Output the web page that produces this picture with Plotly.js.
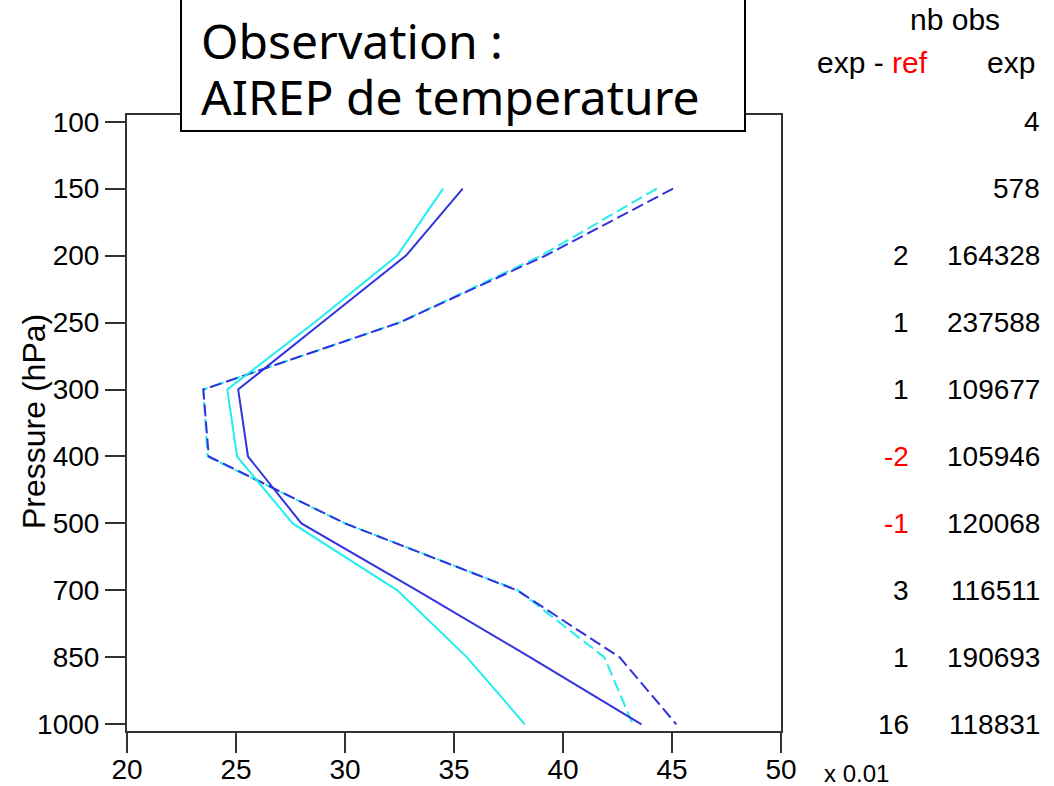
<!DOCTYPE html>
<html>
<head>
<meta charset="utf-8">
<script src="https://cdn.plot.ly/plotly-3.0.1.min.js"></script>
<style>html,body{margin:0;padding:0;background:#fff;}#chart{width:1054px;height:786px;}</style>
</head>
<body>
<div id="chart"></div>
<script>
// Pressure levels (hPa)
const levels = ['100','150','200','250','300','400','500','700','850','1000'];
// Profiles (x 0.01)
const expSolid = [null, 35.4, 32.8, 28.95, 25.1, 25.55, 28.0, 33.3, 38.5, 43.6];
const refSolid = [null, 34.5, 32.4, 28.6, 24.6, 25.05, 27.6, 32.4, 35.6, 38.25];
const expDash  = [null, 45.05, 39.2, 32.5, 23.5, 23.75, 30.0, 37.9, 42.6, 45.2];
const refDash  = [null, 44.3, 39.0, 32.5, 23.5, 23.7, 30.0, 37.95, 41.9, 43.2];
// Observation counts
const nbExp   = ['4','578','164328','237588','109677','105946','120068','116511','190693','118831'];
const diffObs = ['', '', '2', '1', '1', '-2', '-1', '3', '1', '16'];
const xTicks = [20, 25, 30, 35, 40, 45, 50];

const BLUE = '#3333dd', CYAN = '#22eeee';
const FONT = 'Liberation Sans, Arial, sans-serif';
const FS = 28;

const traces = [
  {x: refDash, y: levels, mode: 'lines', line: {color: CYAN, width: 2, dash: '12px,5px'}},
  {x: expDash, y: levels, mode: 'lines', line: {color: BLUE, width: 2, dash: '12px,5px'}},
  {x: refSolid, y: levels, mode: 'lines', line: {color: CYAN, width: 2}},
  {x: expSolid, y: levels, mode: 'lines', line: {color: BLUE, width: 2}}
];

const annotations = [];
levels.forEach((lv, i) => {
  annotations.push({xref: 'paper', yref: 'y', x: 1.399, y: i, text: nbExp[i], showarrow: false,
    xanchor: 'right', yanchor: 'middle', font: {family: FONT, size: FS, color: '#000'}});
  if (diffObs[i] !== '') {
    annotations.push({xref: 'paper', yref: 'y', x: 1.199, y: i, text: diffObs[i], showarrow: false,
      xanchor: 'right', yanchor: 'middle',
      font: {family: FONT, size: FS, color: diffObs[i].startsWith('-') ? '#ff0000' : '#000'}});
  }
});
const px = v => (v - 127) / 654;
const py = v => (731 - v) / 616;
annotations.push(
  {xref: 'paper', yref: 'paper', x: px(955), y: py(20), text: 'nb obs', showarrow: false,
   xanchor: 'center', yanchor: 'middle', font: {family: FONT, size: 30, color: '#000'}},
  {xref: 'paper', yref: 'paper', x: px(872), y: py(63), text: 'exp - <span style="color:#ff0000">ref</span>', showarrow: false,
   xanchor: 'center', yanchor: 'middle', font: {family: FONT, size: 30, color: '#000'}},
  {xref: 'paper', yref: 'paper', x: px(1011), y: py(63), text: 'exp', showarrow: false,
   xanchor: 'center', yanchor: 'middle', font: {family: FONT, size: 30, color: '#000'}},
  {xref: 'paper', yref: 'paper', x: px(822), y: py(773), text: 'x 0.01', showarrow: false,
   xanchor: 'left', yanchor: 'middle', font: {family: FONT, size: 24, color: '#000'}},
  {xref: 'paper', yref: 'paper', x: px(34), y: py(422), text: 'Pressure (hPa)', showarrow: false, textangle: -90,
   xanchor: 'center', yanchor: 'middle', font: {family: FONT, size: 32, color: '#000'}},
  {xref: 'paper', yref: 'paper', x: px(199), y: py(40), text: 'Observation :', showarrow: false,
   xanchor: 'left', yanchor: 'middle', font: {family: 'Noto Sans, sans-serif', size: 48, color: '#000'}},
  {xref: 'paper', yref: 'paper', x: px(199), y: py(97), text: 'AIREP de temperature', showarrow: false,
   xanchor: 'left', yanchor: 'middle', font: {family: 'Noto Sans, sans-serif', size: 48, color: '#000'}}
);

const layout = {
  width: 1054, height: 786,
  margin: {l: 127, r: 273, t: 115, b: 55, pad: 0},
  paper_bgcolor: '#fff', plot_bgcolor: '#fff',
  showlegend: false,
  xaxis: {
    range: [20, 50], tickvals: xTicks, ticktext: xTicks.map(String),
    showgrid: false, zeroline: false,
    showline: true, mirror: true, linecolor: '#333', linewidth: 2,
    ticks: 'outside', ticklen: 20, tickwidth: 2, tickcolor: '#333',
    ticklabelstandoff: -8,
    tickfont: {family: FONT, size: FS, color: '#000'}
  },
  yaxis: {
    type: 'category', categoryorder: 'array', categoryarray: levels,
    range: [9.1, -0.1],
    showgrid: false, zeroline: false,
    showline: true, mirror: true, linecolor: '#333', linewidth: 2,
    ticks: 'outside', ticklen: 20, tickwidth: 2, tickcolor: '#333',
    tickfont: {family: FONT, size: FS, color: '#000'}
  },
  shapes: [
    {type: 'rect', xref: 'paper', yref: 'paper', x0: px(181), x1: px(745),
     y0: py(131), y1: py(-20), fillcolor: '#fff', line: {color: '#000', width: 2}, layer: 'above'}
  ],
  annotations: annotations
};

Plotly.newPlot('chart', traces, layout, {displayModeBar: false, staticPlot: true});
</script>
</body>
</html>
